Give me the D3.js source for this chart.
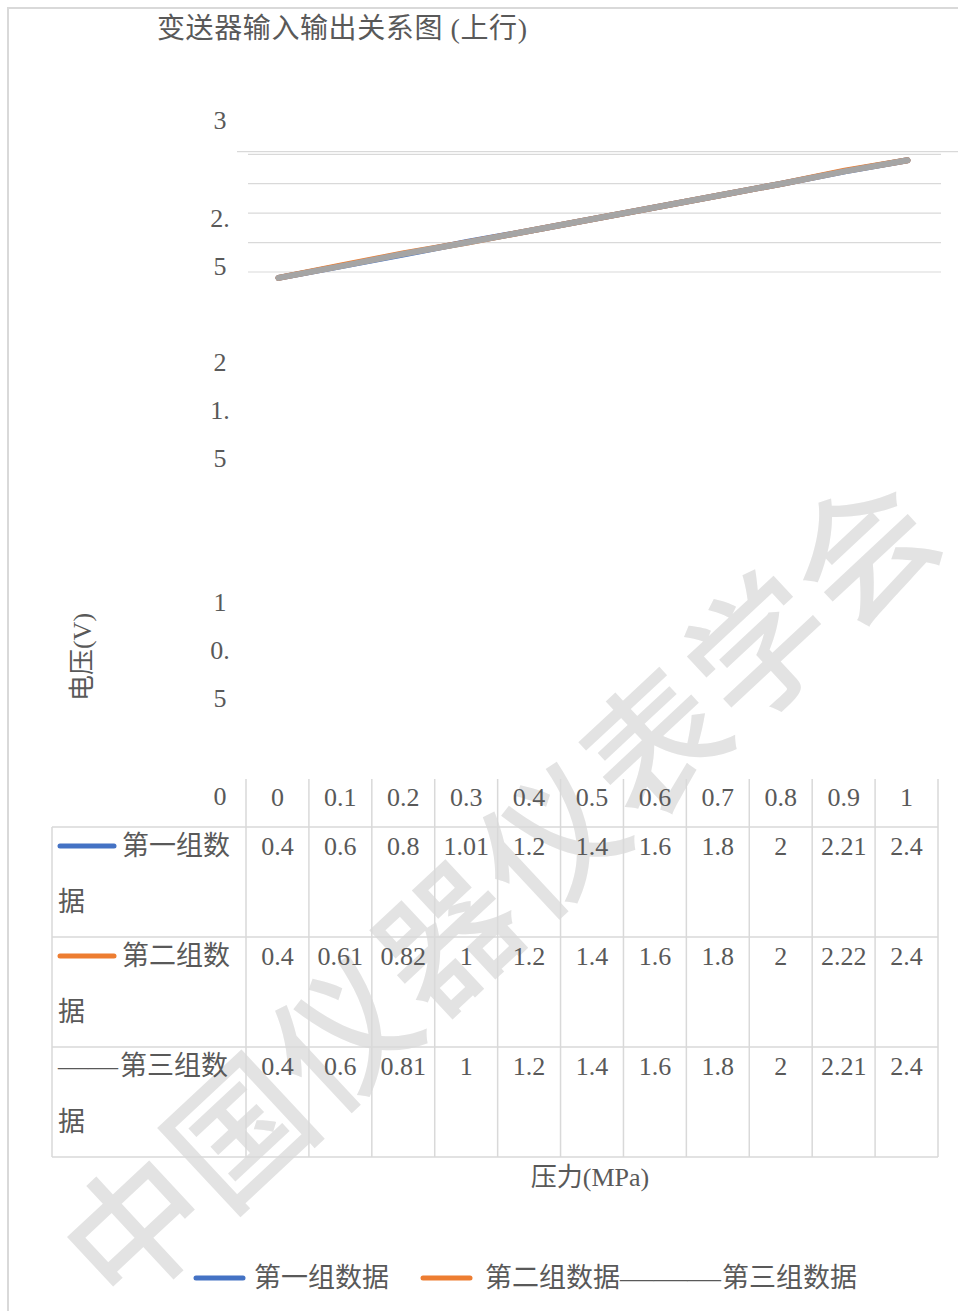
<!DOCTYPE html>
<html><head><meta charset="utf-8">
<script src="https://cdn.jsdelivr.net/npm/d3@7"></script>
<style>html,body{margin:0;padding:0;background:#fff;}svg{display:block;}</style>
</head><body>
<script>
const categories = ["0","0.1","0.2","0.3","0.4","0.5","0.6","0.7","0.8","0.9","1"];
const series1 = [0.4,0.6,0.8,1.01,1.2,1.4,1.6,1.8,2,2.21,2.4];
const series2 = [0.4,0.61,0.82,1,1.2,1.4,1.6,1.8,2,2.22,2.4];
const series3 = [0.4,0.6,0.81,1,1.2,1.4,1.6,1.8,2,2.21,2.4];
const seriesNames = ["第一组数据","第二组数据","第三组数据"];
const seriesColors = ["#4472C4","#ED7D31","#A5A5A5"];
const yTickLabels = ["3","2.5","2","1.5","1","0.5","0"];
const yGridValues = [0.5,1,1.5,2,2.5];
const title = "变送器输入输出关系图 (上行)";
const xTitle = "压力(MPa)";
const yTitle = "电压(V)";
const watermark = "中国仪器仪表学会";

const W = 958, H = 1311;
const FONT = "'Liberation Serif','Noto Sans CJK SC',serif";
const TXT = "#595959";
const GRID = "#d9d9d9";

const svg = d3.select("body").append("svg").attr("width", W).attr("height", H);

// page border
svg.append("path").attr("d", `M8,${H} V8 H${W}`).attr("fill","none").attr("stroke",GRID).attr("stroke-width",2);

// watermark
svg.append("text").attr("transform","translate(495,882) rotate(-43)")
  .attr("text-anchor","middle").attr("dominant-baseline","central")
  .attr("font-family","'Noto Sans CJK SC'").attr("font-size",138).attr("font-weight",500)
  .attr("fill","#e3e3e3").attr("letter-spacing",4).text(watermark);

// title
svg.append("text").attr("x",157).attr("y",38).attr("font-family",FONT).attr("font-size",28)
  .attr("fill",TXT).attr("textLength",370).text(title);

// scales
const x = d3.scaleBand().domain(categories).range([246, 938]);
const y = d3.scaleLinear().domain([0, 2.5]).range([301.4, 154.3]);
const yLabelPos = d3.scaleLinear().domain([0,0.5,1,1.5,2,2.5,3]).range([796,674,602,434,362,242,120]);

// top plot line
svg.append("line").attr("x1",237).attr("x2",W).attr("y1",151.7).attr("y2",151.7)
  .attr("stroke",GRID).attr("stroke-width",1.2);
// gridlines
svg.append("g").selectAll("line").data(yGridValues).join("line")
  .attr("x1",248).attr("x2",941).attr("y1",d=>y(d)).attr("y2",d=>y(d))
  .attr("stroke",GRID).attr("stroke-width",1.2);

// y tick labels (wrapped)
const yl = svg.append("g").attr("font-family",FONT).attr("font-size",26).attr("fill",TXT).attr("text-anchor","middle");
yTickLabels.forEach(l => {
  const c = yLabelPos(+l);
  const parts = l.includes(".") ? [l.slice(0, l.indexOf(".")+1), l.slice(l.indexOf(".")+1)] : [l];
  parts.forEach((p,i) => {
    const yy = parts.length === 1 ? c : c + (i === 0 ? -24 : 24);
    yl.append("text").attr("x",220).attr("y",yy).attr("dominant-baseline","central").text(p);
  });
});

// y title
svg.append("text").attr("transform","translate(82,657) rotate(-90)").attr("text-anchor","middle")
  .attr("dominant-baseline","central").attr("font-family",FONT).attr("font-size",26).attr("fill",TXT).text(yTitle);

// lines
const allSeries = [series1, series2, series3];
const line = d3.line().x((d,i)=>x(categories[i]) + x.bandwidth()/2 + 1).y(d=>y(d));
svg.append("g").selectAll("path").data(allSeries).join("path")
  .attr("d", d=>line(d)).attr("fill","none").attr("stroke",(d,i)=>seriesColors[i])
  .attr("stroke-width",6).attr("stroke-linecap","round").attr("stroke-linejoin","round");

// data table
const tbl = svg.append("g");
const headTop = 779, rowTop = 827, rowH = 110, left = 52, right = x.range()[1];
const bounds = categories.map(c => x(c)).concat([right]);
tbl.selectAll("line.v").data(bounds).join("line").attr("class","v")
  .attr("x1",d=>d).attr("x2",d=>d).attr("y1",headTop).attr("y2",rowTop + rowH*3)
  .attr("stroke",GRID).attr("stroke-width",1.5);
[0,1,2,3].forEach(i => {
  tbl.append("line").attr("x1",left).attr("x2",right).attr("y1",rowTop+rowH*i).attr("y2",rowTop+rowH*i)
    .attr("stroke",GRID).attr("stroke-width",1.5);
});
tbl.append("line").attr("x1",left).attr("x2",left).attr("y1",rowTop).attr("y2",rowTop+rowH*3)
  .attr("stroke",GRID).attr("stroke-width",1.5);

// header labels
tbl.append("g").selectAll("text").data(categories).join("text")
  .attr("x",d=>x(d)+x.bandwidth()/2).attr("y",797).attr("text-anchor","middle").attr("dominant-baseline","central")
  .attr("font-family",FONT).attr("font-size",26).attr("fill",TXT).text(d=>d);

allSeries.forEach((s, r) => {
  const top = rowTop + rowH*r;
  const cy = top + 19;
  const g = tbl.append("g").attr("font-family",FONT).attr("fill",TXT);
  const name = seriesNames[r];
  if (r < 2) {
    g.append("line").attr("x1",60).attr("x2",114).attr("y1",cy).attr("y2",cy)
      .attr("stroke",seriesColors[r]).attr("stroke-width",5).attr("stroke-linecap","round");
    g.append("text").attr("x",122).attr("y",cy).attr("dominant-baseline","central").attr("font-size",27)
      .text(name.slice(0,4));
  } else {
    g.append("text").attr("x",58).attr("y",cy).attr("dominant-baseline","central").attr("font-size",27)
      .attr("textLength",60).attr("lengthAdjust","spacingAndGlyphs").text("——");
    g.append("text").attr("x",120).attr("y",cy).attr("dominant-baseline","central").attr("font-size",27)
      .text(name.slice(0,4));
  }
  g.append("text").attr("x",58).attr("y",top + 75).attr("dominant-baseline","central").attr("font-size",27)
    .text(name.slice(4));
  g.selectAll("text.v").data(s).join("text").attr("class","v")
    .attr("x",(d,i)=>x(categories[i]) + x.bandwidth()/2).attr("y",cy)
    .attr("text-anchor","middle").attr("dominant-baseline","central").attr("font-size",26).text(d=>d);
});

// x title
svg.append("text").attr("x",590).attr("y",1177).attr("text-anchor","middle").attr("dominant-baseline","central")
  .attr("font-family",FONT).attr("font-size",26).attr("fill",TXT).text(xTitle);

// legend
const lg = svg.append("g").attr("font-family",FONT).attr("font-size",27).attr("fill",TXT);
const ly = 1278;
[[196,243,254],[423,470,485]].forEach((p,i) => {
  lg.append("line").attr("x1",p[0]).attr("x2",p[1]).attr("y1",ly).attr("y2",ly)
    .attr("stroke",seriesColors[i]).attr("stroke-width",5).attr("stroke-linecap","round");
  lg.append("text").attr("x",p[2]).attr("y",ly).attr("dominant-baseline","central").text(seriesNames[i]);
});
lg.append("text").attr("x",620).attr("y",ly).attr("dominant-baseline","central")
  .attr("textLength",101).attr("lengthAdjust","spacingAndGlyphs").text("———");
lg.append("text").attr("x",722).attr("y",ly).attr("dominant-baseline","central").text(seriesNames[2]);
</script>
</body></html>
